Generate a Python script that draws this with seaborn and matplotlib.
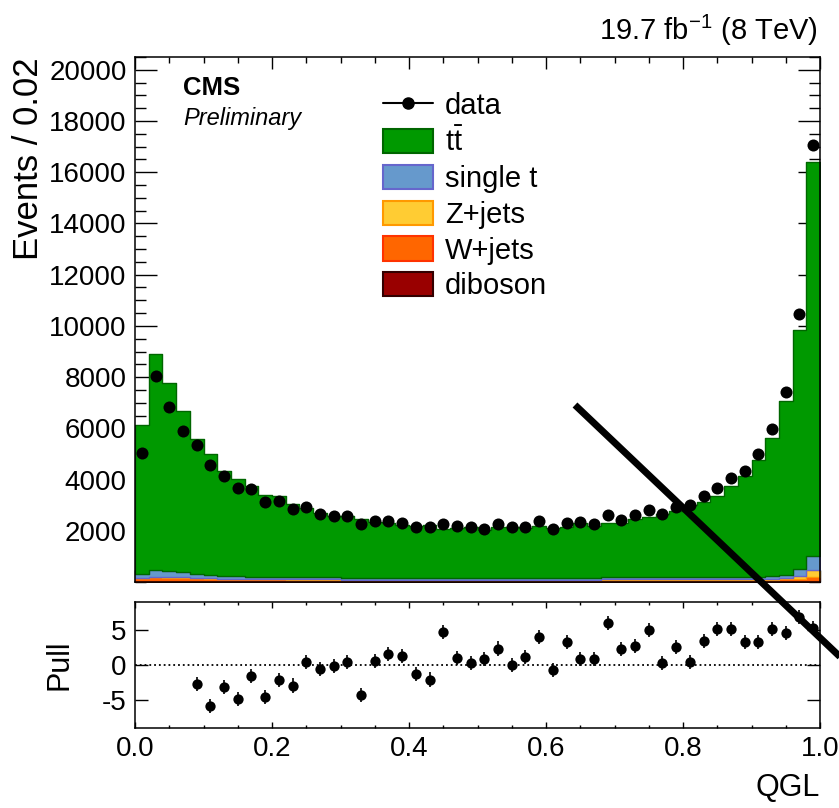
import numpy as np
import pandas as pd
import matplotlib
matplotlib.use("Agg")
import matplotlib.pyplot as plt
import seaborn as sns
from matplotlib.lines import Line2D
from matplotlib.patches import Patch
from matplotlib.ticker import MultipleLocator

# ---------------- data ----------------
bin_width = 0.02
n_bins = 50

data_counts = [5040, 8050, 6820, 5910, 5350, 4580, 4150, 3690, 3630, 3110,
               3170, 2850, 2910, 2664, 2586, 2586, 2261, 2365, 2391, 2300,
               2144, 2131, 2273, 2170, 2160, 2066, 2247, 2143, 2143, 2391,
               2078, 2300, 2352, 2247, 2625, 2430, 2599, 2808, 2670, 2912,
               3010, 3340, 3667, 4050, 4343, 4995, 5972, 7402, 10476, 17066]

ttbar = [5825, 8432, 7332, 6252, 5270, 4729, 4121, 3802, 3523, 3190,
         3145, 2851, 2715, 2509, 2411, 2390, 2286, 2163, 2148, 2069,
         2035, 2055, 1891, 1956, 1986, 1861, 1966, 1976, 1919, 2024,
         1939, 1968, 2137, 2030, 2144, 2142, 2280, 2364, 2483, 2591,
         2804, 2950, 3167, 3532, 3918, 4562, 5390, 6758, 9315, 15390]

single_top = [160, 280, 250, 230, 150, 120, 100, 95, 90, 88,
              85, 83, 82, 80, 80, 78, 78, 77, 77, 76,
              76, 76, 75, 75, 75, 75, 75, 75, 76, 76,
              76, 77, 77, 78, 78, 79, 80, 80, 81, 82,
              83, 85, 87, 90, 92, 96, 100, 140, 270, 520]

z_jets = [15, 18, 18, 18, 20, 16, 14, 13, 12, 12,
          12, 11, 11, 11, 11, 10, 10, 10, 10, 10,
          10, 10, 10, 10, 10, 10, 10, 10, 10, 10,
          10, 10, 10, 11, 11, 12, 12, 13, 13, 14,
          14, 15, 16, 18, 20, 25, 35, 50, 110, 300]

w_jets = [110, 150, 140, 130, 110, 95, 85, 80, 75, 70,
          68, 65, 62, 60, 58, 57, 56, 55, 55, 55,
          54, 54, 54, 54, 54, 54, 54, 54, 55, 55,
          55, 55, 56, 56, 57, 57, 58, 58, 58, 58,
          59, 60, 60, 60, 60, 62, 65, 72, 100, 150]

diboson = [30] * 50

pull = [np.nan, np.nan, np.nan, np.nan, -2.7, -5.8, -3.05, -4.86, -1.57, -4.48,
        -2.14, -2.9, 0.38, -0.57, -0.14, 0.48, -4.2, 0.62, 1.52, 1.33,
        -1.29, -2.05, 4.67, 0.95, 0.33, 0.81, 2.33, -0.05, 1.1, 4.0,
        -0.71, 3.29, 0.86, 0.9, 5.9, 2.24, 2.67, 5.0, 0.24, 2.52,
        0.48, 3.43, 5.14, 5.14, 3.24, 3.19, 5.14, 4.48, 6.8, 5.2]

process_names = [r"$\mathrm{t\bar{t}}$", "single t", "Z+jets", "W+jets", "diboson"]
process_values = [ttbar, single_top, z_jets, w_jets, diboson]
fill_colors = ["#009900", "#6699cc", "#ffcc33", "#ff6600", "#990000"]
edge_colors = ["#006600", "#6666cc", "#ff9900", "#ff3300", "#330000"]

y_ticks_main = [2000, 4000, 6000, 8000, 10000, 12000, 14000, 16000, 18000, 20000]
x_ticks = [0.0, 0.2, 0.4, 0.6, 0.8, 1.0]
x_tick_labels = ["0.0", "0.2", "0.4", "0.6", "0.8", "1.0"]
pull_ticks = [-5, 0, 5]
pull_tick_labels = ["-5", "0", "5"]

# ---------------- style ----------------
sns.set_style("ticks")
plt.rcParams["font.family"] = ["Liberation Sans", "DejaVu Sans"]
plt.rcParams["mathtext.fontset"] = "custom"
plt.rcParams["mathtext.rm"] = "Liberation Sans"
plt.rcParams["mathtext.it"] = "Liberation Sans:italic"
plt.rcParams["mathtext.bf"] = "Liberation Sans:bold"
plt.rcParams["axes.linewidth"] = 1.1
plt.rcParams["axes.unicode_minus"] = False
for key in ["text.color", "axes.labelcolor", "axes.edgecolor", "xtick.color", "ytick.color"]:
    plt.rcParams[key] = "black"

edges = np.linspace(0.0, 1.0, n_bins + 1)
centers = 0.5 * (edges[:-1] + edges[1:])

rows = []
for name, vals in zip(process_names, process_values):
    for c, v in zip(centers, vals):
        rows.append({"qgl": c, "events": v, "process": name})
df = pd.DataFrame(rows)

W, H = 839, 808
fig = plt.figure(figsize=(W / 100, H / 100), dpi=100)
ax = fig.add_axes([135 / W, (H - 582) / H, 685 / W, 525 / H])
axp = fig.add_axes([135 / W, (H - 728) / H, 685 / W, 126 / H])

palette = dict(zip(process_names, fill_colors))
sns.histplot(data=df, x="qgl", weights="events", hue="process",
             hue_order=process_names, multiple="stack", binwidth=bin_width,
             binrange=(0.0, 1.0), element="step", fill=True, alpha=1.0,
             palette=palette, linewidth=1.0, legend=False, ax=ax)

# set outline colours per layer
fc_to_ec = {tuple(np.round(matplotlib.colors.to_rgb(f), 3)): e
            for f, e in zip(fill_colors, edge_colors)}
for coll in ax.collections:
    fcs = coll.get_facecolor()
    if len(fcs):
        key = tuple(np.round(fcs[0][:3], 3))
        if key in fc_to_ec:
            coll.set_edgecolor(fc_to_ec[key])

# data points
data_arr = np.array(data_counts, dtype=float)
ax.errorbar(centers, data_arr, yerr=np.sqrt(data_arr), fmt="none",
            ecolor="black", elinewidth=1.2, zorder=5)
sns.scatterplot(x=centers, y=data_arr, color="black", s=75, edgecolor="black",
                linewidth=0, zorder=6, ax=ax, legend=False)

ax.set_xlim(0, 1)
ax.set_ylim(0, 20500)
ax.set_yticks(y_ticks_main)
ax.yaxis.set_minor_locator(MultipleLocator(500))
ax.set_xticks(x_ticks)
ax.xaxis.set_minor_locator(MultipleLocator(0.05))
ax.tick_params(axis="both", which="both", direction="in", top=True, right=True,
               labelsize=20, width=1.0)
ax.tick_params(axis="y", which="major", length=15.8, pad=6)
ax.tick_params(axis="y", which="minor", length=7.9)
ax.tick_params(axis="x", which="major", length=8.6)
ax.tick_params(axis="x", which="minor", length=4.3)
ax.tick_params(axis="x", labelbottom=False)
ax.set_xlabel("")
ax.set_ylabel("Events / 0.02", fontsize=25, loc="top")
ax.yaxis.set_label_coords((45 - 135) / 685, 1.0)

# pull panel
pull_arr = np.array(pull, dtype=float)
axp.axhline(0, color="black", linestyle=":", linewidth=1.3)
axp.errorbar(centers, pull_arr, yerr=np.ones_like(pull_arr), fmt="none",
             ecolor="black", elinewidth=1.2, zorder=5)
sns.scatterplot(x=centers, y=pull_arr, color="black", s=55, linewidth=0,
                zorder=6, ax=axp, legend=False)
axp.set_xlim(0, 1)
axp.set_ylim(-8.9, 8.9)
axp.set_yticks(pull_ticks)
axp.set_yticklabels(pull_tick_labels)
axp.set_xticks(x_ticks)
axp.set_xticklabels(x_tick_labels)
axp.xaxis.set_minor_locator(MultipleLocator(0.05))
axp.tick_params(axis="both", which="both", direction="in", top=True, right=True,
                labelsize=20, width=1.0)
axp.tick_params(axis="y", which="major", length=9.4, pad=6)
axp.tick_params(axis="x", which="major", length=4.3, pad=6)
axp.tick_params(axis="x", which="minor", length=2.2)
axp.set_ylabel("Pull", fontsize=22)
axp.yaxis.set_label_coords((74 - 135) / 685, 0.5)
axp.set_xlabel("QGL", fontsize=22, loc="right")
axp.xaxis.set_label_coords(1.0, (728 - 773) / 126)

# legend
handles = [Line2D([0], [0], color="black", marker="o", markersize=8, linewidth=1.5)]
for f, e in zip(fill_colors, edge_colors):
    handles.append(Patch(facecolor=f, edgecolor=e, linewidth=1.5))
labels = ["data"] + process_names
ax.legend(handles, labels, loc="upper left", bbox_to_anchor=(383 / W, 1 - 92 / H),
          bbox_transform=fig.transFigure, frameon=False, fontsize=21,
          handlelength=1.71, handleheight=0.9, handletextpad=0.41,
          labelspacing=0.26, borderpad=0, borderaxespad=0)

# texts
fig.text(818 / W, 1 - 30 / H, r"19.7 fb$^{-1}$ (8 TeV)", ha="right", va="center", fontsize=21)
fig.text(183 / W, 1 - 88 / H, "CMS", fontweight="bold", fontsize=18.5, va="center")
fig.text(183 / W, 1 - 119 / H, "Preliminary", style="italic", fontsize=17, va="center")

# thick diagonal stroke across the figure
fig.add_artist(Line2D([575 / W, 875 / W], [1 - 405 / H, 1 - 690 / H],
                      transform=fig.transFigure, color="black", linewidth=5,
                      solid_capstyle="butt", zorder=20))

fig.savefig("out.png", dpi=100)
